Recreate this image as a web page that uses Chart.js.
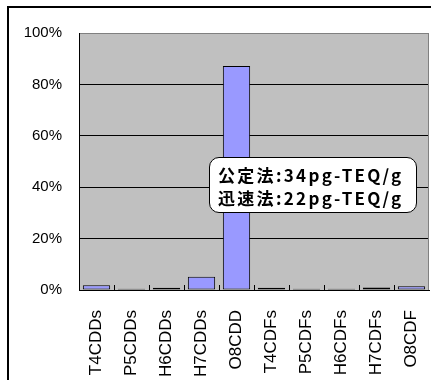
<!DOCTYPE html>
<html>
<head>
<meta charset="utf-8">
<script src="https://cdn.jsdelivr.net/npm/chart.js@4/dist/chart.umd.min.js"></script>
<style>
  html, body { margin: 0; padding: 0; background: #fff; }
  #wrap { position: relative; width: 431px; height: 380px; overflow: hidden; background: #fff; }
  #frame { position: absolute; left: 7px; top: 6px; width: 600px; height: 600px; border: 2px solid #000; box-sizing: border-box; }
  #chart { position: absolute; left: 0; top: 0; }
  #note {
    position: absolute; left: 209px; top: 157px; width: 208px; height: 56px;
    box-sizing: border-box; background: #fff; border: 1px solid #000; border-radius: 10px;
    font-family: "Noto Sans CJK JP", sans-serif; font-weight: 700; font-size: 17px;
    letter-spacing: 2.3px;
    line-height: 23px; padding: 5px 0 0 8px; color: #000; white-space: nowrap;
  }
</style>
</head>
<body>
<div id="wrap">
  <div id="frame"></div>
  <canvas id="chart" width="431" height="380"></canvas>
  <div id="note"></div>
</div>
<script>
// Congener categories and their share of the total (%)
const categories = ['T4CDDs', 'P5CDDs', 'H6CDDs', 'H7CDDs', 'O8CDD', 'T4CDFs', 'P5CDFs', 'H6CDFs', 'H7CDFs', 'O8CDF'];
const shares = [1.8, 0.5, 0.9, 5.2, 87.2, 0.9, 0.5, 0.5, 1.0, 1.5];
const yTicks = [0, 20, 40, 60, 80, 100];
const noteLines = ['公定法:34pg-TEQ/g', '迅速法:22pg-TEQ/g'];

document.getElementById('note').innerHTML = noteLines.join('<br>');

const AXIS_FONT = "'Liberation Sans', Arial, sans-serif";

// Short inside tick marks between categories, plus the grey right border of the plot
const plotDecor = {
  id: 'plotDecor',
  afterDatasetsDraw(chart) {
    const { ctx, chartArea: a, scales: { x } } = chart;
    ctx.save();
    ctx.strokeStyle = '#808080';
    ctx.lineWidth = 1;
    ctx.beginPath();
    ctx.moveTo(Math.round(a.right) - 0.5, a.top);
    ctx.lineTo(Math.round(a.right) - 0.5, a.bottom);
    ctx.stroke();
    ctx.strokeStyle = '#000';
    ctx.beginPath();
    const step = (x.getPixelForValue(1) - x.getPixelForValue(0));
    for (let i = 1; i < categories.length; i++) {
      const px = Math.round(x.getPixelForValue(i) - step / 2) + 0.5;
      ctx.moveTo(px, a.bottom);
      ctx.lineTo(px, a.bottom - 5);
    }
    ctx.stroke();
    ctx.restore();
  }
};

// Plot area fill
const plotBg = {
  id: 'plotBg',
  beforeDraw(chart) {
    const { ctx, chartArea: a } = chart;
    ctx.save();
    ctx.fillStyle = '#C0C0C0';
    ctx.fillRect(a.left, a.top, a.right - a.left, a.bottom - a.top);
    ctx.restore();
  }
};

new Chart(document.getElementById('chart'), {
  type: 'bar',
  data: {
    labels: categories,
    datasets: [{
      data: shares,
      backgroundColor: '#9999FF',
      borderColor: '#000',
      borderWidth: 1,
      borderSkipped: false,
      categoryPercentage: 1.0,
      barPercentage: 0.78
    }]
  },
  options: {
    responsive: false,
    animation: false,
    devicePixelRatio: 1,
    layout: { padding: { left: 0, right: 2, top: 33, bottom: 0 } },
    plugins: { legend: { display: false }, tooltip: { enabled: false } },
    scales: {
      x: {
        grid: { display: false },
        border: { display: true, color: '#000', width: 1 },
        ticks: {
          minRotation: 90, maxRotation: 90, padding: 12,
          color: '#000',
          font: { family: AXIS_FONT, size: 17 }
        },
        afterFit(scale) {
          scale.height = 90;
          scale.paddingLeft = 0;
          scale.paddingRight = 0;
        }
      },
      y: {
        min: 0, max: 100,
        afterBuildTicks(scale) { scale.ticks = yTicks.map(v => ({ value: v })); },
        grid: {
          drawTicks: false,
          color: ctx => (ctx.tick && ctx.tick.value === 100 ? '#808080' : '#000'),
          lineWidth: 1
        },
        border: { display: true, color: '#000', width: 1 },
        ticks: {
          padding: 17,
          color: '#000',
          font: { family: AXIS_FONT, size: 15 },
          callback: v => v + '%'
        },
        afterFit(scale) { scale.width = 79; }
      }
    }
  },
  plugins: [plotBg, plotDecor]
});
</script>
</body>
</html>
